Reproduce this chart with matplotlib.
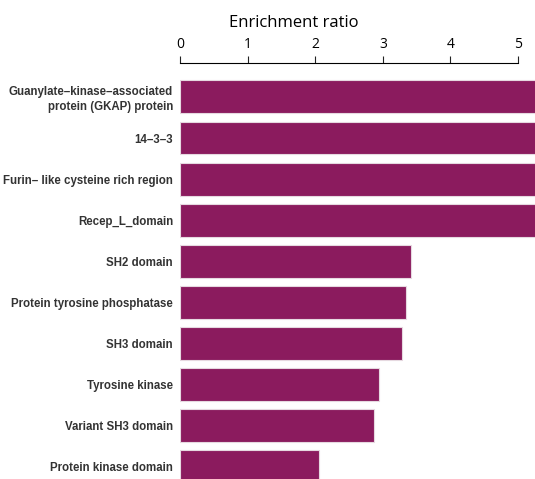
import numpy as np
from matplotlib import pyplot as plt

# domains, top to bottom
domains = ["Guanylate–kinase–associated\nprotein (GKAP) protein",
           "14–3–3",
           "Furin– like cysteine rich region",
           "Recep_L_domain",
           "SH2 domain",
           "Protein tyrosine phosphatase",
           "SH3 domain",
           "Tyrosine kinase",
           "Variant SH3 domain",
           "Protein kinase domain"]
# first four run off the right edge of the plot
ratio = [6.0, 6.0, 6.0, 6.0, 3.42, 3.34, 3.29, 2.94, 2.87, 2.06]
ticks = [0, 1, 2, 3, 4, 5]

fig = plt.figure(figsize=(5.35, 4.79), dpi=100)
ax = fig.add_axes([0.3364, 0.0, 0.6636, 0.868])

y = np.arange(len(domains))
ax.barh(y, ratio, height=0.8, color="#8b1b5e", edgecolor="#e6d9e0", linewidth=0.8)

ax.set_xlim(0, 5.25)
ax.set_ylim(9.30, -0.82)

ax.xaxis.tick_top()
ax.xaxis.set_label_position("top")
ax.set_xticks(ticks)
ax.set_xticklabels([str(t) for t in ticks], fontsize=10, family="Open Sans")
ax.set_xlabel("Enrichment ratio", fontsize=12, family="Open Sans")
ax.xaxis.set_label_coords(0.321, 1.088)
ax.tick_params(axis="x", direction="out", length=5, width=0.8, pad=3, color="#222222")

ax.set_yticks(y)
ax.set_yticklabels(domains, fontsize=8.3, fontweight="bold", color="#333333",
                   family="Liberation Sans", linespacing=1.25)
ax.tick_params(axis="y", length=0, pad=5)

for s in ["right", "bottom", "left"]:
    ax.spines[s].set_visible(False)
ax.spines["top"].set_bounds(0, 5)
ax.spines["top"].set_linewidth(0.8)

plt.savefig("out.png", dpi=100)
